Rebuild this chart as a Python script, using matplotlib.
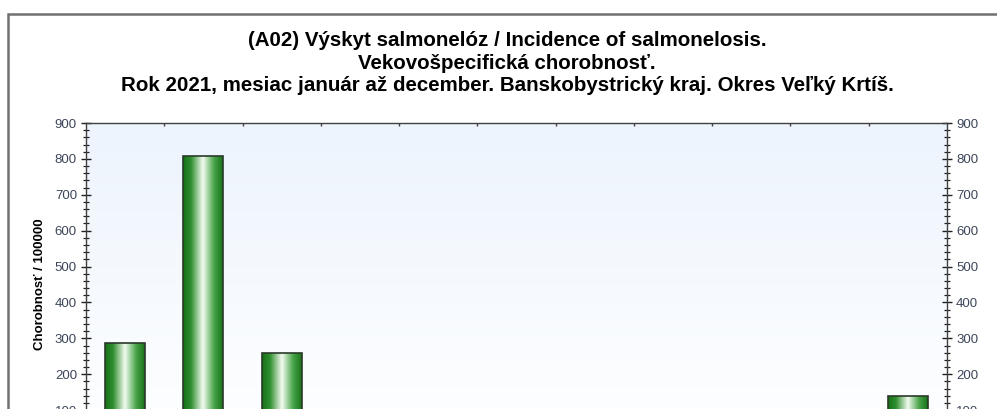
import numpy as np
import matplotlib
matplotlib.use("Agg")
import matplotlib.pyplot as plt
from matplotlib.colors import LinearSegmentedColormap
from matplotlib.patches import Rectangle
from matplotlib.ticker import MultipleLocator

# vekove skupiny a chorobnost na 100000 (spodok grafu je v obrazku orezany)
categories = ["0", "1-4", "5-9", "10-14", "15-19", "20-24", "25-34", "35-44", "45-54", "55-64", "65+"]
values = [288, 808, 260, 0, 0, 0, 0, 0, 0, 0, 140]

title = ("(A02) Výskyt salmonelóz / Incidence of salmonelosis.\n"
         "Vekovošpecifická chorobnosť.\n"
         "Rok 2021, mesiac január až december. Banskobystrický kraj. Okres Veľký Krtíš.")
ylabel = "Chorobnosť / 100000"

plt.rcParams['font.family'] = ['Liberation Sans', 'DejaVu Sans']

W, H = 997, 409
fig = plt.figure(figsize=(W / 100, H / 100), dpi=100)

# os siaha pod spodny okraj obrazka
ax_left, ax_right, ax_top, ax_bottom = 86, 947, 123, 446
ax = fig.add_axes([ax_left / W, 1 - ax_bottom / H, (ax_right - ax_left) / W, (ax_bottom - ax_top) / H])

# ramcek okolo grafu
fig.patches.append(Rectangle((8 / W, -0.5), 2, 1.5 - 13.5 / H, transform=fig.transFigure,
                             fill=False, ec='#707070', lw=1.8))

x = np.arange(len(categories))
ax.set_xlim(-0.5, len(categories) - 0.5)
ax.set_ylim(0, 900)

# pozadie s prechodom
bg = LinearSegmentedColormap.from_list("bg", ["#ffffff", "#edf4fd"])
ax.imshow(np.linspace(0, 1, 256).reshape(-1, 1), cmap=bg, origin='lower', aspect='auto',
          extent=[-0.5, len(categories) - 0.5, 0, 900], zorder=0)

# stlpce so zelenym valcovym prechodom
green = LinearSegmentedColormap.from_list("gr", [
    (0.0, "#157015"), (0.2, "#2f8f2f"), (0.5, "#f3fcf1"), (0.78, "#48a448"), (1.0, "#187318")])
grad = np.linspace(0, 1, 256).reshape(1, -1)
bars = ax.bar(x, values, width=0.51, facecolor='none', edgecolor='#2a3a2a', lw=1.2, zorder=3)
for b in bars:
    if b.get_height() <= 0:
        continue
    x0, w, h = b.get_x(), b.get_width(), b.get_height()
    im = ax.imshow(grad, cmap=green, aspect='auto', extent=[x0, x0 + w, 0, h], zorder=2)
    im.set_clip_path(b)

# popisy kategorii su pod orezanou castou, preto sa nekreslia
ax.set_xticks(x)
ax.set_xticklabels([])
ax.set_xticks(np.arange(len(categories) - 1) + 0.5, minor=True)
ax.tick_params(axis='x', which='major', length=0)
ax.tick_params(axis='x', which='minor', top=True, bottom=False, direction='in', length=2.5,
               width=1, color='#404040')

ax.yaxis.set_major_locator(MultipleLocator(100))
ax.yaxis.set_minor_locator(MultipleLocator(20))
ax.tick_params(axis='y', which='major', direction='inout', length=7, width=1, color='#202020',
               left=True, right=True, labelleft=True, labelright=True,
               labelsize=9.5, labelcolor='#3c4658', pad=3)
ax.tick_params(axis='y', which='minor', direction='inout', length=4, width=0.9, color='#202020',
               left=True, right=True)

for s in ax.spines.values():
    s.set_color('#404040')
    s.set_linewidth(1)

ax.set_ylabel(ylabel, fontsize=9.5, fontweight='bold', labelpad=6)

fig.text(507 / W, 1 - 31 / H, title, ha='center', va='top', fontsize=14.8, fontweight='bold',
         linespacing=1.24)

fig.savefig("out.png", dpi=100)
